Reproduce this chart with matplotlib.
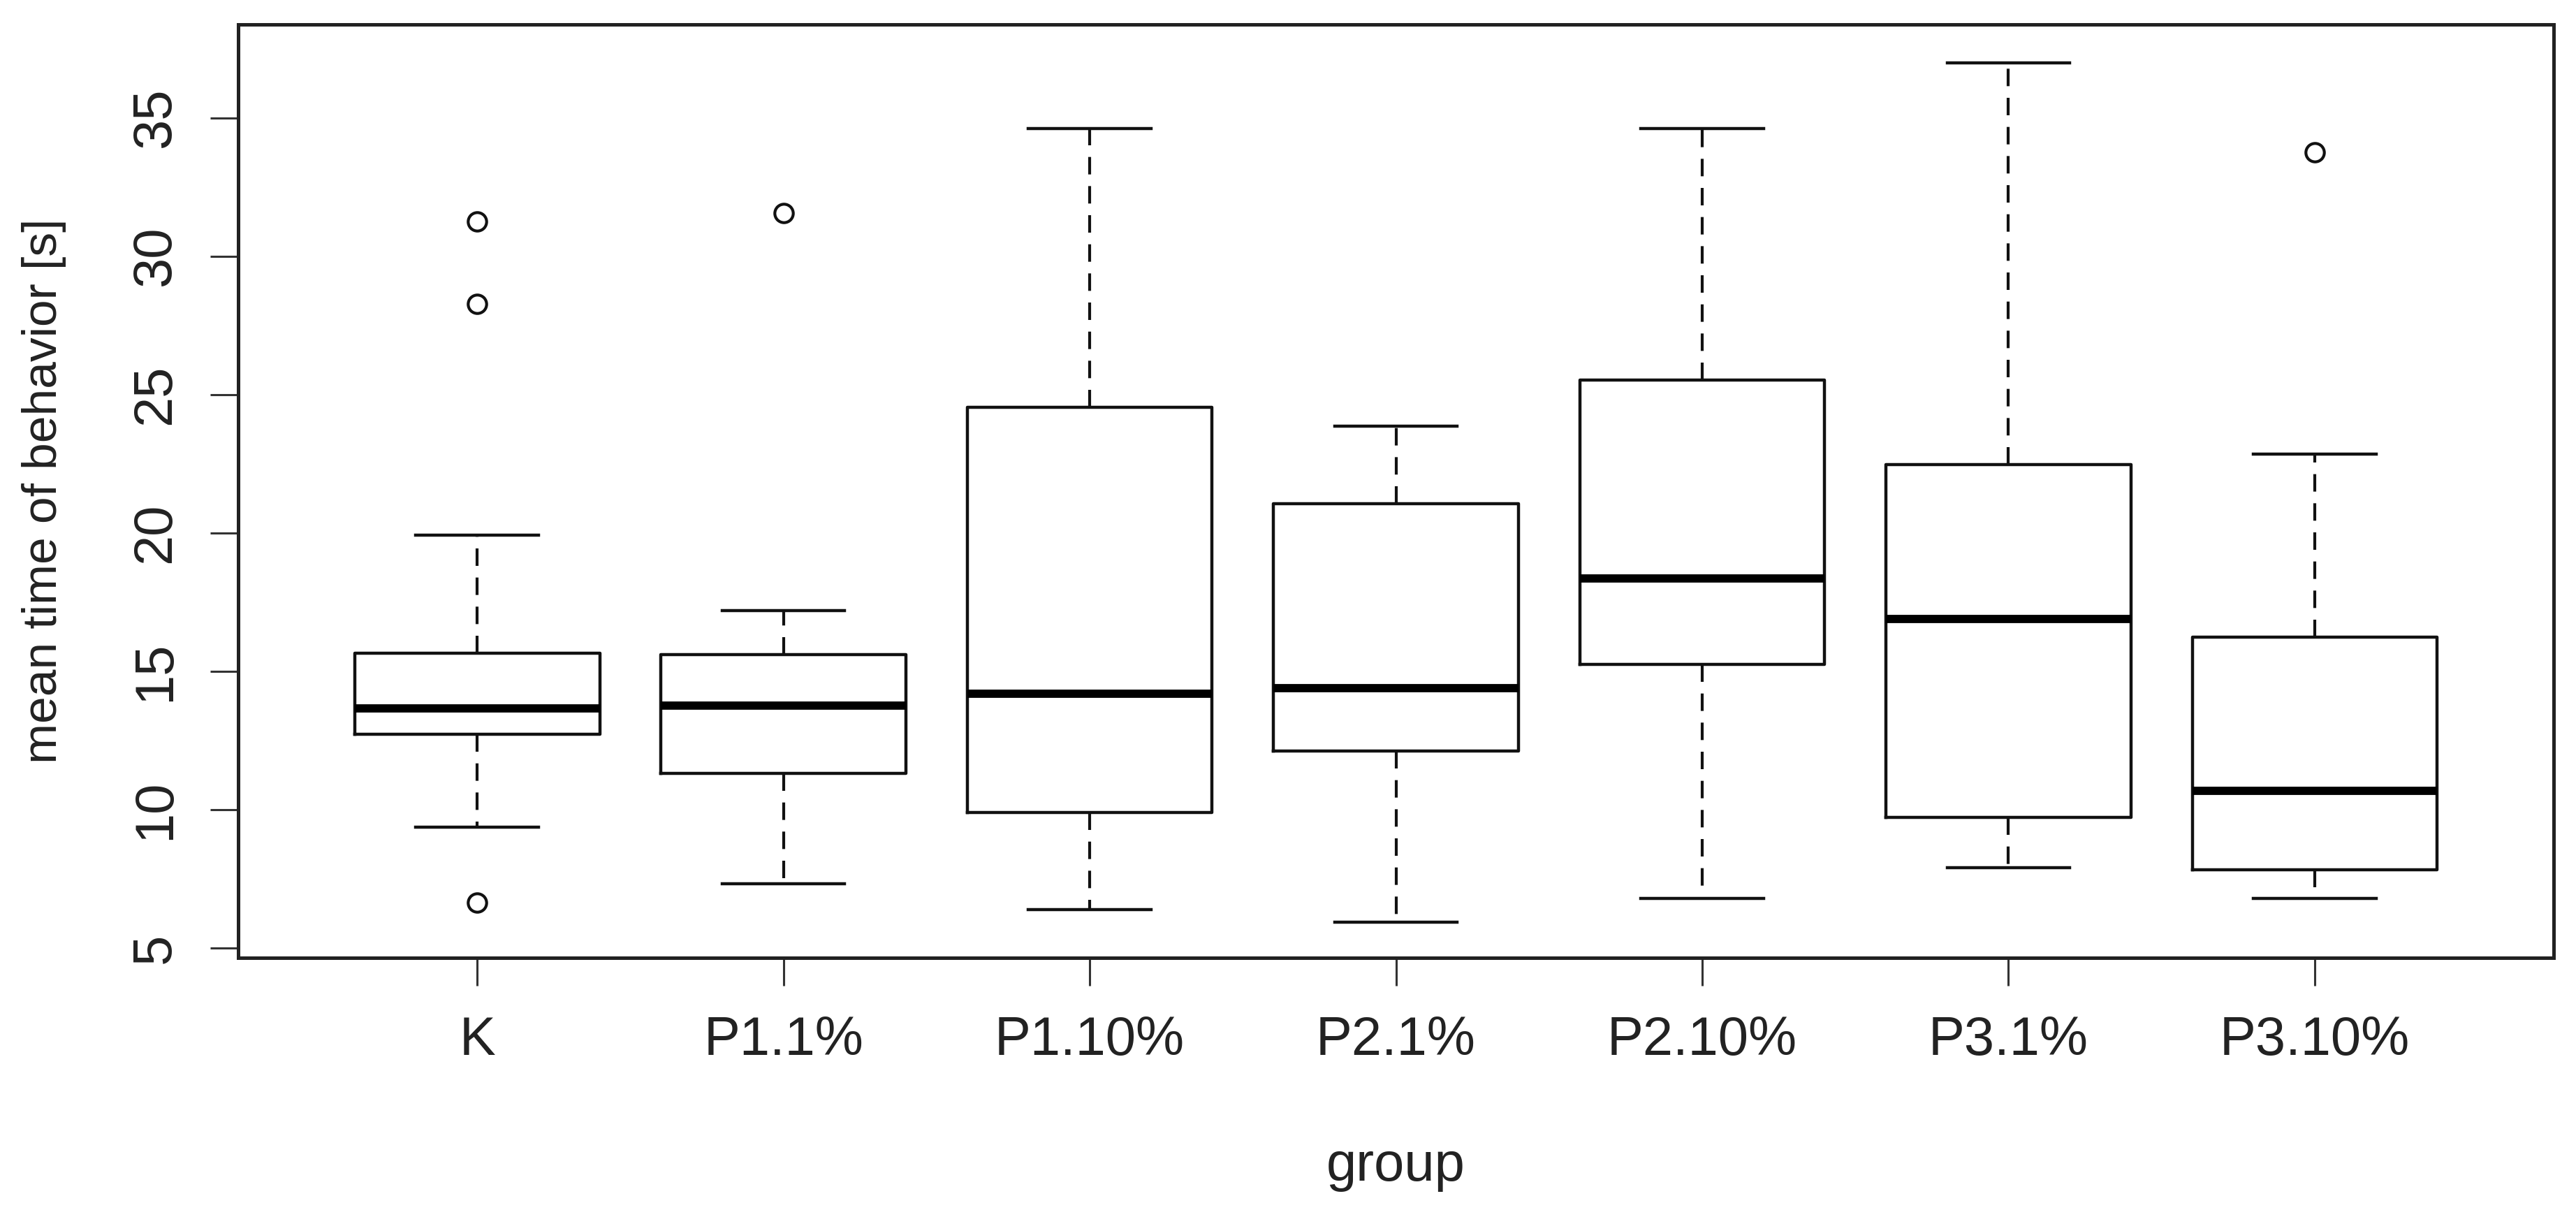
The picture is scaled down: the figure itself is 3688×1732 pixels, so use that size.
import matplotlib
matplotlib.use("Agg")
import matplotlib.pyplot as plt
from matplotlib import font_manager

groups = ['K', 'P1.1%', 'P1.10%', 'P2.1%', 'P2.10%', 'P3.1%', 'P3.10%']
whislo = [9.38, 7.32, 6.39, 5.94, 6.79, 7.91, 6.79]
q1 = [12.72, 11.31, 9.91, 12.13, 15.26, 9.73, 7.83]
med = [13.65, 13.77, 14.18, 14.40, 18.35, 16.90, 10.68]
q3 = [15.66, 15.61, 24.55, 21.05, 25.54, 22.48, 16.24]
whishi = [19.93, 17.21, 34.62, 23.86, 34.62, 37.00, 22.85]
fliers = [[31.26, 28.29, 6.65], [31.57], [], [], [], [], [33.76]]
yticks = [5, 10, 15, 20, 25, 30, 35]

names = {f.name for f in font_manager.fontManager.ttflist}
narrow = 'Liberation Sans Narrow' if 'Liberation Sans Narrow' in names else 'Liberation Sans'

stats = []
for i, g in enumerate(groups):
    stats.append(dict(label=g, med=med[i], q1=q1[i], q3=q3[i],
                      whislo=whislo[i], whishi=whishi[i], fliers=fliers[i]))

fig = plt.figure(figsize=(36.88, 17.32), dpi=100)
ax = fig.add_axes([0.0925, 0.2084, 0.8988, 0.7714])

line = '#111111'
ax.bxp(stats, positions=range(1, 8), widths=0.8, capwidths=0.4,
       boxprops=dict(color=line, linewidth=3.2),
       medianprops=dict(color='black', linewidth=8.5, solid_capstyle='butt'),
       whiskerprops=dict(color=line, linewidth=3.0, linestyle=(0, (6, 4))),
       capprops=dict(color=line, linewidth=3.2),
       flierprops=dict(marker='o', markersize=19, markerfacecolor='none',
                       markeredgecolor=line, markeredgewidth=3.0))

ax.set_xlim(0.22, 7.78)
ax.set_ylim(4.646, 38.384)
ax.set_yticks(yticks)
ax.set_yticklabels([str(t) for t in yticks], rotation=90, va='center')

for s in ax.spines.values():
    s.set_linewidth(3.6)
    s.set_color('#222222')

ax.tick_params(axis='both', length=29, width=2.2, color='#333333',
               labelsize=56, labelcolor='#222222')
ax.tick_params(axis='x', pad=30)
ax.tick_params(axis='y', pad=30)
for lab in ax.get_xticklabels() + ax.get_yticklabels():
    lab.set_family(narrow)

ax.set_xlabel('group', fontsize=56, family=narrow, color='#222222')
ax.xaxis.label.set_va('baseline')
ax.xaxis.set_label_coords(0.5, -0.2388)

ax.set_ylabel('mean time of behavior [s]', fontsize=50, family='Liberation Sans', color='#222222')
ax.yaxis.label.set_va('center')
ax.yaxis.set_label_coords(-0.084, 0.5)

fig.savefig('out.png', dpi=100, facecolor='white')
